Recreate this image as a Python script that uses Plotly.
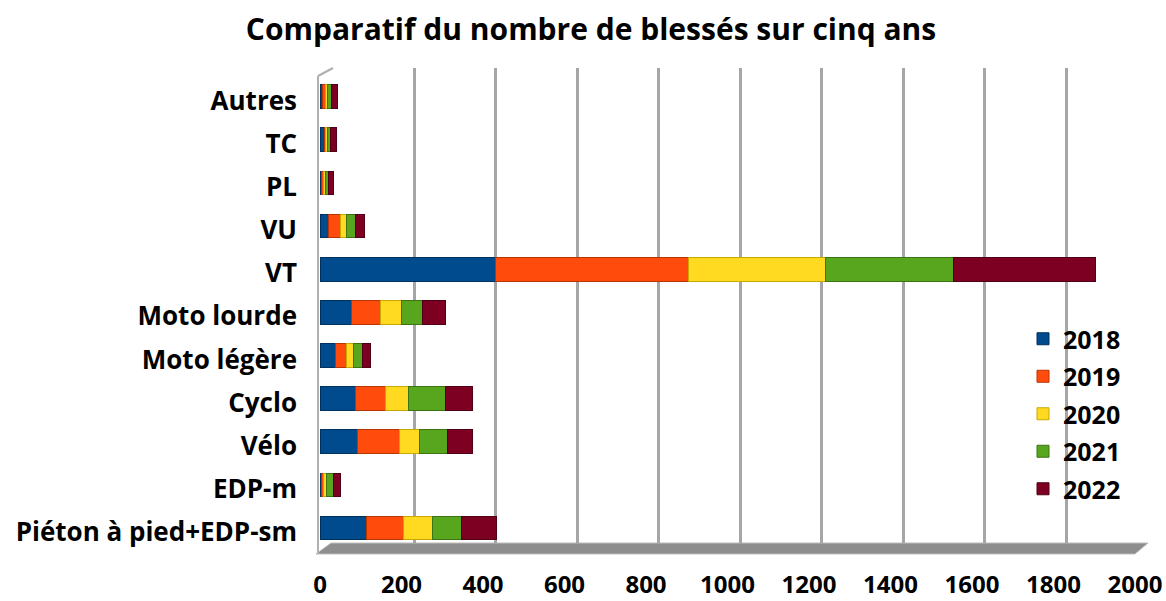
import plotly.graph_objects as go

categories = ["Autres", "TC", "PL", "VU", "VT", "Moto lourde", "Moto légère",
              "Cyclo", "Vélo", "EDP-m", "Piéton à pied+EDP-sm"]
years = ["2018", "2019", "2020", "2021", "2022"]
v2018 = [6, 11, 3, 21, 430, 78, 37, 88, 93, 4, 115]
v2019 = [7, 3, 5, 30, 474, 71, 27, 72, 101, 4, 89]
v2020 = [6, 4, 6, 13, 336, 51, 17, 58, 51, 7, 73]
v2021 = [10, 8, 6, 22, 314, 52, 24, 91, 67, 17, 71]
v2022 = [14, 14, 12, 24, 349, 56, 20, 64, 61, 19, 84]
series = [v2018, v2019, v2020, v2021, v2022]
colors = ["#004B8D", "#FF4C0C", "#FFDA20", "#58A51E", "#7D0022"]
edges = ["#00315E", "#B83400", "#C9A800", "#3C7414", "#4F0016"]
x_ticks = [0, 200, 400, 600, 800, 1000, 1200, 1400, 1600, 1800, 2000]

W, H = 1166, 601
ML, MR, MT, MB = 320, 18, 68, 47
PW = W - ML - MR
PH = H - MT - MB
FONT = "Open Sans"

fig = go.Figure()

# invisible trace that carries the back-wall grid subplot (x/y)
fig.add_trace(go.Scatter(x=[0], y=[0], mode="markers", marker=dict(opacity=0),
                         showlegend=False, hoverinfo="skip", xaxis="x", yaxis="y"))

for i, (name, vals, c, e) in enumerate(zip(years, series, colors, edges)):
    fig.add_trace(go.Bar(
        y=categories, x=vals, name=f"<b>{name}</b>", orientation="h",
        marker=dict(color=c, line=dict(color=e, width=1)),
        xaxis="x2", yaxis="y2", width=0.55, legendgroup=f"g{i}",
    ))

def px_x(p):
    return (p - ML) / PW

def px_y(p):
    return (H - MB - p) / PH

shapes = [
    # floor
    dict(type="path", xref="paper", yref="paper",
         path=f"M {px_x(316)},{px_y(554)} L {px_x(1135)},{px_y(554)} "
              f"L {px_x(1148)},{px_y(543)} L {px_x(331)},{px_y(543)} Z",
         fillcolor="#8E8E8E", line=dict(color="#BDBDBD", width=1), layer="below"),
    # left wall top edge
    dict(type="line", xref="paper", yref="paper",
         x0=px_x(318), y0=px_y(76), x1=px_x(333), y1=px_y(68),
         line=dict(color="#B0B0B0", width=2)),
    # left wall
    dict(type="line", xref="paper", yref="paper",
         x0=px_x(318), y0=px_y(76), x1=px_x(318), y1=px_y(554),
         line=dict(color="#B0B0B0", width=2)),
]

fig.update_layout(
    width=W, height=H,
    margin=dict(l=ML, r=MR, t=MT, b=MB, autoexpand=False),
    paper_bgcolor="white", plot_bgcolor="rgba(0,0,0,0)",
    barmode="stack", bargap=0.45,
    font=dict(family=FONT, color="black"),
    title=dict(text="<b>Comparatif du nombre de blessés sur cinq ans</b>",
               font=dict(size=30, family=FONT, color="black"),
               x=591 / W, xref="container", xanchor="center",
               y=1 - 29 / H, yref="container", yanchor="middle"),
    xaxis=dict(domain=[13 / PW, 1], range=[0, 2001], showgrid=True,
               gridcolor="#A6A6A6", gridwidth=3, zeroline=False, automargin=False,
               tickvals=x_ticks, showticklabels=False, anchor="y", fixedrange=True),
    yaxis=dict(domain=[px_y(543), 1], range=[0, 1], visible=False, showgrid=False,
               anchor="x", automargin=False),
    xaxis2=dict(domain=[0, 815 / PW], range=[0, 2000], showgrid=False, zeroline=False,
                tickvals=x_ticks, ticktext=[f"<b>{t}</b>" for t in x_ticks],
                tickfont=dict(size=24, family=FONT, color="black"), automargin=False,
                ticklabelstandoff=18, anchor="y2", showline=False),
    yaxis2=dict(domain=[px_y(549.6), px_y(75)], autorange="reversed", showgrid=False,
                tickvals=categories, ticktext=[f"<b>{c}</b>" for c in categories],
                tickfont=dict(size=26, family=FONT, color="black"), automargin=False,
                ticklabelstandoff=22, ticklabelshift=-4, anchor="x2", showline=False),
    legend=dict(x=px_x(1023), y=px_y(316), xanchor="left", yanchor="top",
                bgcolor="rgba(0,0,0,0)", traceorder="grouped",
                font=dict(size=25, family=FONT, color="black"),
                tracegroupgap=2, itemwidth=30),
    shapes=shapes,
)

fig.write_html("out.html", config={"displayModeBar": False},
               post_script="document.body.style.margin='0';")
